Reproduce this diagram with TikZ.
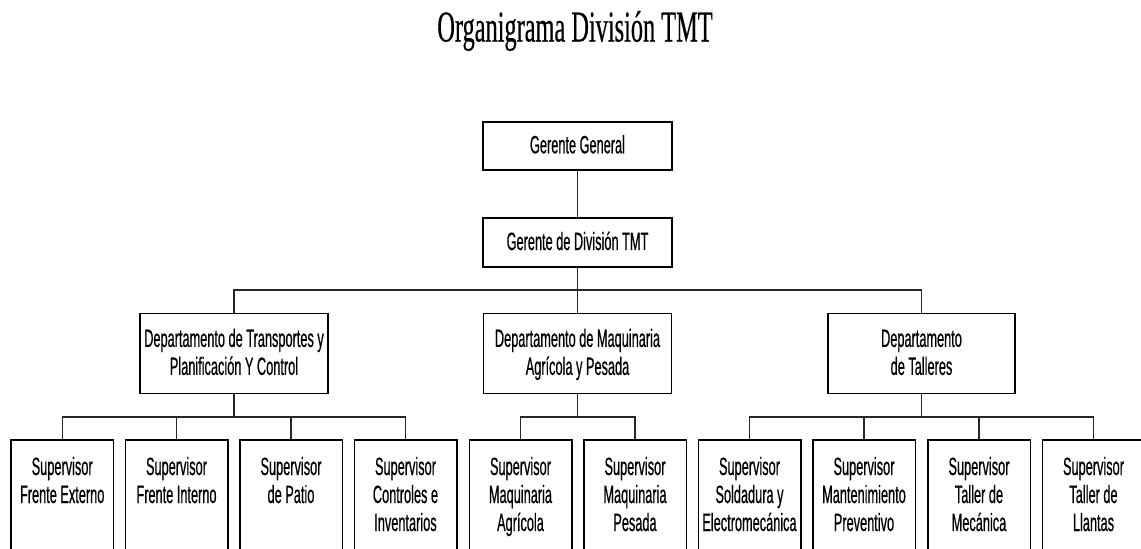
\documentclass[tikz,border=0pt]{standalone}
\usepackage{fontspec}
\newfontfamily\chartfont[FakeStretch=0.51,FakeBold=0.5]{Liberation Sans}
\newfontfamily\headfont[FakeStretch=0.553,FakeBold=0.4]{Liberation Serif}
% fixed-height text block, text hung from the top
\newcommand{\boxlines}[3]{\parbox[c][#1][t]{#2}{\centering\strut #3}}
\begin{document}
\begin{tikzpicture}[x=1pt,y=-1pt,
  unit/.style={draw=black, line width=1.5pt, fill=white, inner sep=0pt,
    font=\chartfont\fontsize{25}{28}\selectfont},
  topbox/.style={unit, minimum width=189pt, minimum height=48pt},
  deptbox/.style={unit, minimum width=188pt, minimum height=80pt},
  supbox/.style={unit, minimum width=102.5pt, minimum height=110pt},
  link/.style={draw=black!85, line width=1.2pt}]
\fill[white] (0,0) rectangle (1141,549);
\useasboundingbox (0,0) rectangle (1141,549);
\clip (0,0) rectangle (1141,549);

\node[font=\headfont\fontsize{44}{50}\selectfont, anchor=base] (title) at (575,41.5) {Organigrama División TMT};

% management
\node[topbox] (gg) at (577.5,146) {\boxlines{24.6pt}{185pt}{Gerente General}};
\node[topbox, minimum height=49pt] (gd) at (577.5,242.5) {\boxlines{24.2pt}{185pt}{Gerente de División TMT}};

% departments
\node[deptbox] (d1) at (234,353.3) {\boxlines{52pt}{184pt}{Departamento de Transportes y\\Planificación Y Control}};
\node[deptbox] (d2) at (577.5,353.3) {\boxlines{52pt}{184pt}{Departamento de Maquinaria\\Agrícola y Pesada}};
\node[deptbox, minimum width=187pt] (d3) at (921.5,353.3) {\boxlines{52pt}{184pt}{Departamento\\de Talleres}};

% supervisors
\node[supbox] (s1) at (62.2,495) {\boxlines{79.2pt}{100pt}{Supervisor\\Frente Externo}};
\node[supbox] (s2) at (176.5,495) {\boxlines{79.2pt}{100pt}{Supervisor\\Frente Interno}};
\node[supbox] (s3) at (291,495) {\boxlines{79.2pt}{100pt}{Supervisor\\de Patio}};
\node[supbox] (s4) at (405.5,495) {\boxlines{79.2pt}{100pt}{Supervisor\\Controles e\\Inventarios}};
\node[supbox] (s5) at (520.5,495) {\boxlines{79.2pt}{100pt}{Supervisor\\Maquinaria\\Agrícola}};
\node[supbox] (s6) at (635,495) {\boxlines{79.2pt}{100pt}{Supervisor\\Maquinaria\\Pesada}};
\node[supbox] (s7) at (749.5,495) {\boxlines{79.2pt}{100pt}{Supervisor\\Soldadura y\\Electromecánica}};
\node[supbox] (s8) at (864,495) {\boxlines{79.2pt}{100pt}{Supervisor\\Mantenimiento\\Preventivo}};
\node[supbox] (s9) at (979,495) {\boxlines{79.2pt}{100pt}{Supervisor\\Taller de\\Mecánica}};
\node[supbox] (s10) at (1093.5,495) {\boxlines{79.2pt}{100pt}{Supervisor\\Taller de\\Llantas}};

% reporting lines
\coordinate (bus1) at (577.5,290);
\coordinate (bus2) at (234,417);
\coordinate (bus3) at (577.5,417);
\coordinate (bus4) at (921.5,417);

\path[link] (gg) -- (gd);
\path[link] (gd) -- (d2);
\path[link] (d1.north) |- (bus1) -| (d3.north);

\path[link] (d1) -- (bus2);
\path[link] (s1.north) |- (bus2) -| (s4.north);
\path[link] (s2.north) |- (bus2);
\path[link] (s3.north) |- (bus2);

\path[link] (d2) -- (bus3);
\path[link] (s5.north) |- (bus3) -| (s6.north);

\path[link] (d3) -- (bus4);
\path[link] (s7.north) |- (bus4) -| (s10.north);
\path[link] (s8.north) |- (bus4);
\path[link] (s9.north) |- (bus4);
\end{tikzpicture}
\end{document}
